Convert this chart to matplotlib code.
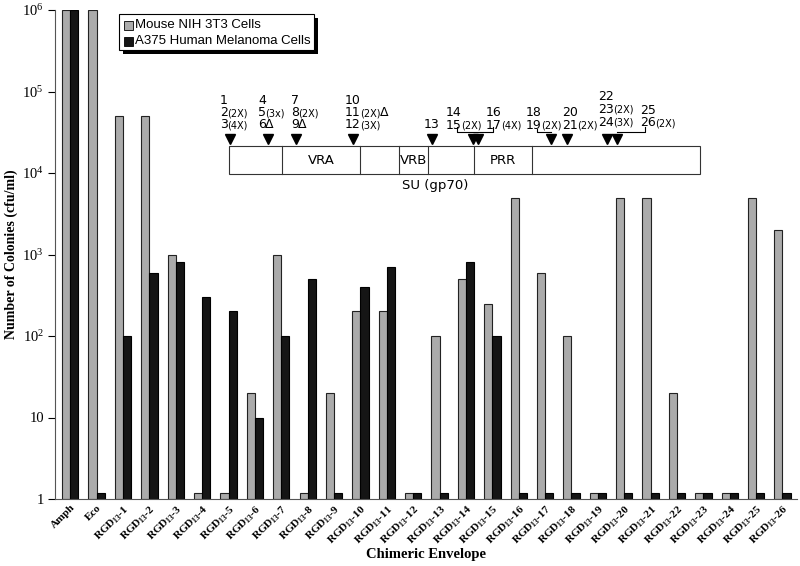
import matplotlib
matplotlib.use("Agg")
import matplotlib.pyplot as plt
from matplotlib.patches import Rectangle
from matplotlib.lines import Line2D
import numpy as np

plt.rcParams['font.family'] = 'Liberation Serif'
plt.rcParams['mathtext.fontset'] = 'custom'
plt.rcParams['mathtext.rm'] = 'Liberation Serif'
plt.rcParams['mathtext.bf'] = 'Liberation Serif:bold'
plt.rcParams['mathtext.it'] = 'Liberation Serif:italic'

# data
categories = ["Amph", "Eco"] + ["%d" % i for i in range(1, 27)]
mouse = [1e6, 1e6, 5e4, 5e4, 1000, 1.18, 1.18, 20, 1000, 1.18, 20, 200, 200, 1.18,
         100, 500, 250, 5000, 600, 100, 1.18, 5000, 5000, 20, 1.18, 1.18, 5000, 2000]
human = [1e6, 1.18, 100, 600, 800, 300, 200, 10, 100, 500, 1.18, 400, 700, 1.18,
         1.18, 800, 100, 1.18, 1.18, 1.18, 1.18, 1.18, 1.18, 1.18, 1.18, 1.18, 1.18, 1.18]
series_names = ["Mouse NIH 3T3 Cells", "A375 Human Melanoma Cells"]
ytick_vals = [1, 10, 100, 1e3, 1e4, 1e5, 1e6]
ytick_labels = ["1", "10", "$10^2$", "$10^3$", "$10^4$", "$10^5$", "$10^6$"]

# schematic of SU (gp70): label groups (x, y of first line, lines as (number, suffix))
site_labels = [
    (220, 100, [("1", ""), ("2", "(2X)"), ("3", "(4X)")]),
    (258, 100, [("4", ""), ("5", "(3x)"), ("6", "Δ")]),
    (291, 100, [("7", ""), ("8", "(2X)"), ("9", "Δ")]),
    (345, 100, [("10", ""), ("11", "(2X)Δ"), ("12", "(3X)")]),
    (424, 125, [("13", "")]),
    (446, 113, [("14", ""), ("15", "(2X)")]),
    (486, 113, [("16", ""), ("17", "(4X)")]),
    (526, 113, [("18", ""), ("19", "(2X)")]),
    (562, 113, [("20", ""), ("21", "(2X)")]),
    (598, 97, [("22", ""), ("23", "(2X)"), ("24", "(3X)")]),
    (640, 110, [("25", ""), ("26", "(2X)")]),
]
arrow_x = [230, 268, 296, 353, 432, 473, 478, 551, 567, 607, 617]
box_edges = [229, 282, 360, 399, 428, 474, 532, 700]
regions = [("VRA", 282, 360), ("VRB", 399, 428), ("PRR", 474, 532)]

W, H = 800, 566
fig = plt.figure(figsize=(8, 5.66), dpi=100)
ax = fig.add_axes([55 / W, 1 - 499 / H, 742 / W, 489 / H])

x = np.arange(len(categories))
bw = 0.31
ax.bar(x - bw / 2, np.array(mouse) - 1, bottom=1, width=bw, color="#ababab",
       edgecolor="#222222", linewidth=0.8, label=series_names[0])
ax.bar(x + bw / 2, np.array(human) - 1, bottom=1, width=bw, color="#151515",
       edgecolor="#000000", linewidth=0.8, label=series_names[1])

ax.set_yscale("log")
ax.set_ylim(1, 1e6)
ax.set_xlim(-0.58, 27.55)
ax.set_yticks(ytick_vals)
ax.set_yticklabels(ytick_labels, fontsize=10.5)
ax.yaxis.set_minor_locator(matplotlib.ticker.NullLocator())
ax.tick_params(axis="y", direction="out", length=5, width=0.8, pad=3)
ax.tick_params(axis="x", length=0, pad=3)
xlabels = [c if not c.isdigit() else r"RGD$_{\mathbf{13}}$-" + c for c in categories]
ax.set_xticks(x)
ax.set_xticklabels(xlabels, rotation=45, ha="right", rotation_mode="anchor",
                   fontsize=8, fontweight="bold")
ax.spines["top"].set_visible(False)
ax.spines["right"].set_visible(False)
ax.spines["left"].set_color("#555555")
ax.spines["bottom"].set_color("#555555")
ax.set_ylabel("Number of Colonies (cfu/ml)", fontsize=10, fontweight="bold")
ax.yaxis.set_label_coords(-0.05, 0.5)
ax.set_xlabel("Chimeric Envelope", fontsize=10.5, fontweight="bold")
ax.xaxis.set_label_coords(0.5, -0.10)


def fx(px):
    return px / W


def fy(py):
    return 1 - py / H


# legend with shadow
fig.add_artist(Rectangle((fx(123), fy(54)), 195 / W, 36 / H, transform=fig.transFigure,
                         facecolor="black", edgecolor="none", zorder=5))
fig.add_artist(Rectangle((fx(119), fy(50)), 195 / W, 36 / H, transform=fig.transFigure,
                         facecolor="white", edgecolor="black", linewidth=0.8, zorder=6))
for i, (name, col) in enumerate(zip(series_names, ["#ababab", "#151515"])):
    yy = 25 + i * 16
    fig.add_artist(Rectangle((fx(124), fy(yy + 4.5)), 9 / W, 9 / H, transform=fig.transFigure,
                             facecolor=col, edgecolor="black", linewidth=0.6, zorder=7))
    fig.text(fx(135), fy(yy), name, fontsize=9.5, family="Liberation Sans",
             va="center", ha="left", zorder=7)

# SU (gp70) schematic
fig.add_artist(Rectangle((fx(box_edges[0]), fy(174)), (box_edges[-1] - box_edges[0]) / W,
                         28 / H, transform=fig.transFigure, facecolor="white",
                         edgecolor="#333333", linewidth=0.8, zorder=5))
for e in box_edges[1:-1]:
    fig.add_artist(Line2D([fx(e), fx(e)], [fy(146), fy(174)], transform=fig.transFigure,
                          color="#333333", linewidth=0.8, zorder=6))
for name, a, b in regions:
    fig.text(fx((a + b) / 2), fy(160), name, fontsize=9.5, family="DejaVu Sans",
             ha="center", va="center", zorder=7)
fig.text(fx(435), fy(185), "SU (gp70)", fontsize=9.5, family="DejaVu Sans",
         ha="center", va="center", zorder=7)
for ax_ in arrow_x:
    fig.add_artist(Line2D([fx(ax_)], [fy(139)], transform=fig.transFigure, marker="v",
                          markersize=7, color="black", linestyle="none", zorder=7))

renderer = fig.canvas.get_renderer()


def put(xpix, ypix, s, size):
    t = fig.text(fx(xpix), fy(ypix), s, fontsize=size, family="DejaVu Sans",
                 ha="left", va="center", zorder=7)
    return t.get_window_extent(renderer).x1


for x0, y0, lines in site_labels:
    for j, (num, suf) in enumerate(lines):
        yy = y0 + j * 12.5
        xe = put(x0, yy, num, 9)
        if suf:
            core = suf.rstrip("Δ")
            if core:
                xe = put(xe - 0.5, yy + 0.5, core, 7)
            if suf.endswith("Δ"):
                put(xe - 0.5, yy, "Δ", 9)

# brackets joining labels to arrows
brackets = [[(457, 127), (457, 132), (493, 132), (493, 127)],
            [(537, 129), (537, 132), (551, 132)],
            [(617, 132), (645, 132), (645, 127)]]
for br in brackets:
    xs, ys = zip(*br)
    fig.add_artist(Line2D([fx(v) for v in xs], [fy(v) for v in ys],
                          transform=fig.transFigure, color="black", linewidth=0.8, zorder=7))

fig.savefig("out.png", dpi=100)
